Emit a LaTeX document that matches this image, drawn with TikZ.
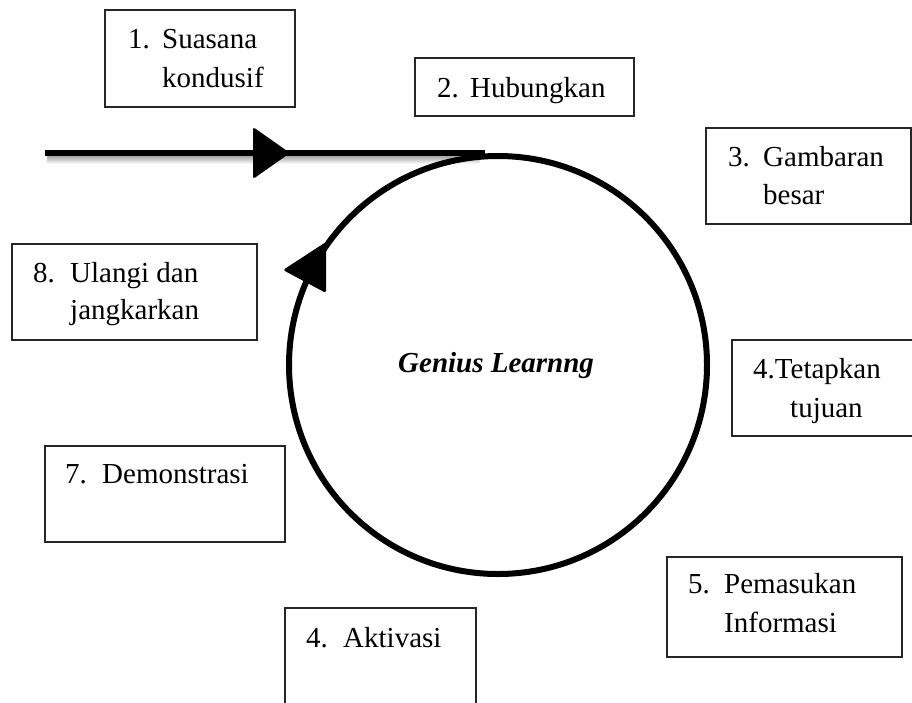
\documentclass[tikz,border=0pt]{standalone}
\usepackage{fontspec}
\setmainfont{Liberation Serif}
\begin{document}
\begin{tikzpicture}[x=1pt,y=-1pt,
  box/.style={draw=black!85, line width=1.4pt},
  lbl/.style={anchor=base west, inner sep=0pt, font=\fontsize{29}{39}\selectfont},
  thick line/.style={line width=6pt, black}]
\useasboundingbox (0,0) rectangle (912,702);
\clip (0,0) rectangle (912,702);
% boxes
\draw[box] (105,10) rectangle (295,107);
\draw[box] (415,58) rectangle (634,116);
\draw[box] (706,128) rectangle (911,224);
\draw[box] (732,340) rectangle (930,436);
\draw[box] (12,244) rectangle (257,340);
\draw[box] (45,446) rectangle (285,542);
\draw[box] (285,608) rectangle (476,720);
\draw[box] (667,557) rectangle (902,657);
% labels
\node[lbl] (t1a) at (128,48) {1.};
\node[lbl] (t1b) at (162,48) {Suasana};
\node[lbl] (t1c) at (162,87) {kondusif};
\node[lbl] (t2a) at (437,97) {2.};
\node[lbl] (t2b) at (470,97) {Hubungkan};
\node[lbl] (t3a) at (728,166) {3.};
\node[lbl] (t3b) at (763,166) {Gambaran};
\node[lbl] (t3c) at (763,204) {besar};
\node[lbl] (t4a) at (753,378) {4.Tetapkan};
\node[lbl] (t4b) at (790,417) {tujuan};
\node[lbl] (t8a) at (33,282) {8.};
\node[lbl] (t8b) at (70,282) {Ulangi dan};
\node[lbl] (t8c) at (70,319) {jangkarkan};
\node[lbl] (t7a) at (65,483) {7.};
\node[lbl] (t7b) at (102,483) {Demonstrasi};
\node[lbl] (t6a) at (306,647) {4.};
\node[lbl] (t6b) at (343,647) {Aktivasi};
\node[lbl] (t5a) at (688,593) {5.};
\node[lbl] (t5b) at (724,593) {Pemasukan};
\node[lbl] (t5c) at (724,632) {Informasi};
% shadow of the main line
\shade[top color=black!35, bottom color=white] (47,156) rectangle (480,164);
% circle
\node[draw, thick line, circle, minimum size=418pt, inner sep=0pt] (c) at (498,365) {};
\node[lbl, font=\fontsize{29}{39}\selectfont\bfseries\itshape] (g) at (398,372) {Genius Learnng};
% main line
\coordinate (s) at (45,153);
\coordinate (e) at (485,153);
\draw[thick line] (s) -- (e);
% arrowheads
\fill[rounded corners=2.5pt] (290,153) -- (253,127) -- (253,179) -- cycle;
\fill[rounded corners=2.5pt] (283,270) -- (326,242) -- (326,293) -- cycle;
\end{tikzpicture}
\end{document}
